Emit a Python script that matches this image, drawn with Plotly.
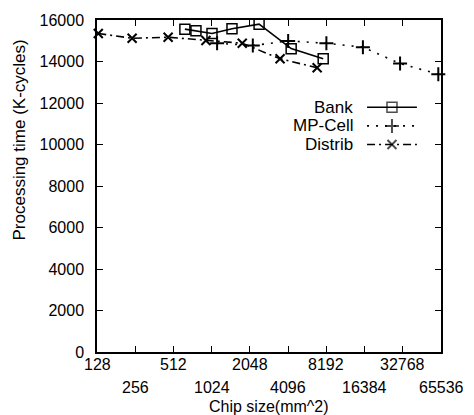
import math
import plotly.graph_objects as go

# ---- data ----
bank_x = [630, 770, 1030, 1480, 2420, 4330, 7740]
bank_y = [15560, 15480, 15350, 15580, 15800, 14620, 14130]
mp_x = [1130, 2160, 4100, 8200, 15900, 31200, 62400]
mp_y = [14880, 14770, 14990, 14880, 14690, 13900, 13390]
distrib_x = [131, 242, 465, 923, 1783, 3540, 6935]
distrib_y = [15350, 15120, 15170, 15010, 14880, 14130, 13700]

x_tick_vals = [128, 256, 512, 1024, 2048, 4096, 8192, 16384, 32768, 65536]
x_tick_text = ["128", "256", "512", "1024", "2048", "4096", "8192", "16384", "32768", "65536"]
y_tick_vals = [0, 2000, 4000, 6000, 8000, 10000, 12000, 14000, 16000]
y_tick_text = ["0", "2000", "4000", "6000", "8000", "10000", "12000", "14000", "16000"]

series_names = ["Bank", "MP-Cell", "Distrib"]

FONT = "Liberation Sans, Arial, Helvetica, sans-serif"
BLACK = "#000000"

styles = {
    "Bank": dict(dash="solid", symbol="square-open", msize=10, mlw=1.5),
    "MP-Cell": dict(dash="2px,7px", symbol="cross-thin-open", msize=10, mlw=2),
    "Distrib": dict(dash="8px,4px,2px,4px", symbol="x-thin-open", msize=9, mlw=2),
}

data = {
    "Bank": (bank_x, bank_y),
    "MP-Cell": (mp_x, mp_y),
    "Distrib": (distrib_x, distrib_y),
}

fig = go.Figure()
for name in series_names:
    xs, ys = data[name]
    st = styles[name]
    fig.add_trace(go.Scatter(
        x=xs, y=ys, mode="lines+markers", name=name, showlegend=False,
        line=dict(color=BLACK, width=1.6, dash=st["dash"]),
        marker=dict(symbol=st["symbol"], size=st["msize"], color=BLACK,
                    line=dict(color=BLACK, width=st["mlw"])),
        cliponaxis=False,
    ))

# ---- gnuplot-style key (text left, sample right) on an overlay axis ----
key_x0, key_x1 = 0.785, 0.93
key_rows = [0.737, 0.681, 0.625]
for name, ky in zip(series_names, key_rows):
    st = styles[name]
    xm = (key_x0 + key_x1) / 2
    fig.add_trace(go.Scatter(
        x=[key_x0, xm, key_x1], y=[ky, ky, ky], xaxis="x2", yaxis="y2",
        mode="lines+markers", showlegend=False, hoverinfo="skip",
        line=dict(color=BLACK, width=1.6, dash=st["dash"]),
        marker=dict(symbol=st["symbol"], size=[0, st["msize"], 0], color=BLACK,
                    line=dict(color=BLACK, width=st["mlw"])),
    ))
    fig.add_annotation(x=key_x0 - 0.035, y=ky, xref="x2", yref="y2",
                       text=name, showarrow=False, xanchor="right", yanchor="middle",
                       font=dict(family=FONT, size=17, color=BLACK))

# ---- x tick labels in two staggered rows ----
for i, (v, t) in enumerate(zip(x_tick_vals, x_tick_text)):
    fig.add_annotation(x=math.log10(v), y=0, xref="x", yref="paper",
                       text=t, showarrow=False, xanchor="center", yanchor="middle",
                       yshift=-12 if i % 2 == 0 else -35,
                       font=dict(family=FONT, size=16, color=BLACK))

fig.add_annotation(x=0.5, y=0, xref="paper", yref="paper", text="Chip size(mm^2)",
                   showarrow=False, xanchor="center", yanchor="middle", yshift=-54,
                   font=dict(family=FONT, size=16, color=BLACK))
fig.add_annotation(x=0, y=0.637, xref="paper", yref="paper",
                   text="Processing time (K-cycles)", textangle=-90,
                   showarrow=False, xanchor="center", yanchor="middle", xshift=-77,
                   font=dict(family=FONT, size=17, color=BLACK))

fig.update_layout(
    width=474, height=415,
    margin=dict(l=97, r=33, t=13, b=63),
    paper_bgcolor="white", plot_bgcolor="white",
    font=dict(family=FONT, size=16, color=BLACK),
    xaxis=dict(type="log", range=[math.log10(128), math.log10(65536)],
               tickvals=x_tick_vals, showticklabels=False,
               ticks="inside", ticklen=6, tickwidth=1.2, tickcolor=BLACK,
               showline=True, linecolor=BLACK, linewidth=1.5, mirror="allticks",
               showgrid=False, zeroline=False),
    yaxis=dict(range=[0, 16000], tickvals=y_tick_vals, ticktext=y_tick_text,
               ticks="inside", ticklen=6, tickwidth=1.2, tickcolor=BLACK,
               showline=True, linecolor=BLACK, linewidth=1.5, mirror="allticks",
               showgrid=False, zeroline=False, ticklabelstandoff=8,
               tickfont=dict(family=FONT, size=16, color=BLACK)),
    xaxis2=dict(overlaying="x", range=[0, 1], visible=False),
    yaxis2=dict(overlaying="y", range=[0, 1], visible=False),
    showlegend=False,
)

fig.write_html("out.html")
